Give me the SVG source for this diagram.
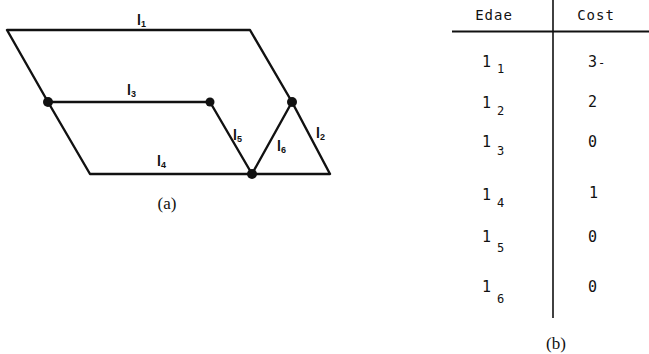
<svg xmlns="http://www.w3.org/2000/svg" width="649" height="354" viewBox="0 0 649 354">
<style>
.e{stroke:#111;stroke-width:2.4;fill:none;stroke-linecap:round;stroke-linejoin:round}
.n{fill:#111}
.lb{font-family:"Liberation Sans",Arial,sans-serif;font-weight:bold;font-size:14px;fill:#111}
.sb{font-size:9px}
.cap{font-family:"Liberation Serif","Times New Roman",serif;font-size:17px;fill:#111}
.tb{font-family:"DejaVu Sans Mono","Liberation Mono",monospace;font-size:14px;fill:#111}
.td{font-family:"DejaVu Sans Mono","Liberation Mono",monospace;font-size:15px;fill:#111}
.ts{font-size:12px}
</style>
<rect width="649" height="354" fill="#fff"/>
<g id="connectors">
  <g id="edge-l1"><polyline class="e" points="48,102 7,30 250,30 292,102"/><text class="lb" x="137" y="25">l<tspan class="sb" dy="2">1</tspan></text></g>
  <g id="edge-l2"><polyline class="e" points="292,102 330,174 252,174"/><text class="lb" x="316" y="138">l<tspan class="sb" dy="2">2</tspan></text></g>
  <g id="edge-l3"><line class="e" x1="48" y1="102" x2="210" y2="102"/><text class="lb" x="127" y="95">l<tspan class="sb" dy="2">3</tspan></text></g>
  <g id="edge-l4"><polyline class="e" points="48,102 90,174 252,174"/><text class="lb" x="157" y="166">l<tspan class="sb" dy="2">4</tspan></text></g>
  <g id="edge-l5"><line class="e" x1="210" y1="102" x2="252" y2="174"/><text class="lb" x="233" y="140">l<tspan class="sb" dy="2">5</tspan></text></g>
  <g id="edge-l6"><line class="e" x1="252" y1="174" x2="292" y2="102"/><text class="lb" x="277" y="151">l<tspan class="sb" dy="2">6</tspan></text></g>
</g>
<g id="node-a"><circle class="n" cx="48" cy="102" r="5"/></g>
<g id="node-b"><circle class="n" cx="210" cy="102" r="4.5"/></g>
<g id="node-c"><circle class="n" cx="292" cy="102" r="5"/></g>
<g id="node-d"><circle class="n" cx="252" cy="174" r="5"/></g>
<text class="cap" x="167" y="209" text-anchor="middle">(a)</text>
<g id="table">
  <line x1="452" y1="31.5" x2="649" y2="31.5" stroke="#111" stroke-width="2"/>
  <line x1="553" y1="0" x2="553" y2="318" stroke="#111" stroke-width="1.6"/>
  <text class="tb" x="494" y="20" text-anchor="middle" letter-spacing="1">Edae</text>
  <text class="tb" x="596" y="20" text-anchor="middle" letter-spacing="1">Cost</text>
  <text class="td" x="482" y="67">1<tspan class="ts" x="497" y="73">1</tspan></text>
  <text class="td" x="482" y="108">1<tspan class="ts" x="497" y="115">2</tspan></text>
  <text class="td" x="482" y="147">1<tspan class="ts" x="497" y="155">3</tspan></text>
  <text class="td" x="482" y="200">1<tspan class="ts" x="497" y="207">4</tspan></text>
  <text class="td" x="482" y="242">1<tspan class="ts" x="497" y="252">5</tspan></text>
  <text class="td" x="482" y="292">1<tspan class="ts" x="497" y="303">6</tspan></text>
  <text class="td" x="588" y="67">3<tspan class="ts" x="598" y="67">-</tspan></text>
  <text class="td" x="588" y="107">2</text>
  <text class="td" x="588" y="147">0</text>
  <text class="td" x="589" y="198">1</text>
  <text class="td" x="588" y="242">0</text>
  <text class="td" x="588" y="292">0</text>
</g>
<text class="cap" x="556" y="349" text-anchor="middle">(b)</text>
</svg>
